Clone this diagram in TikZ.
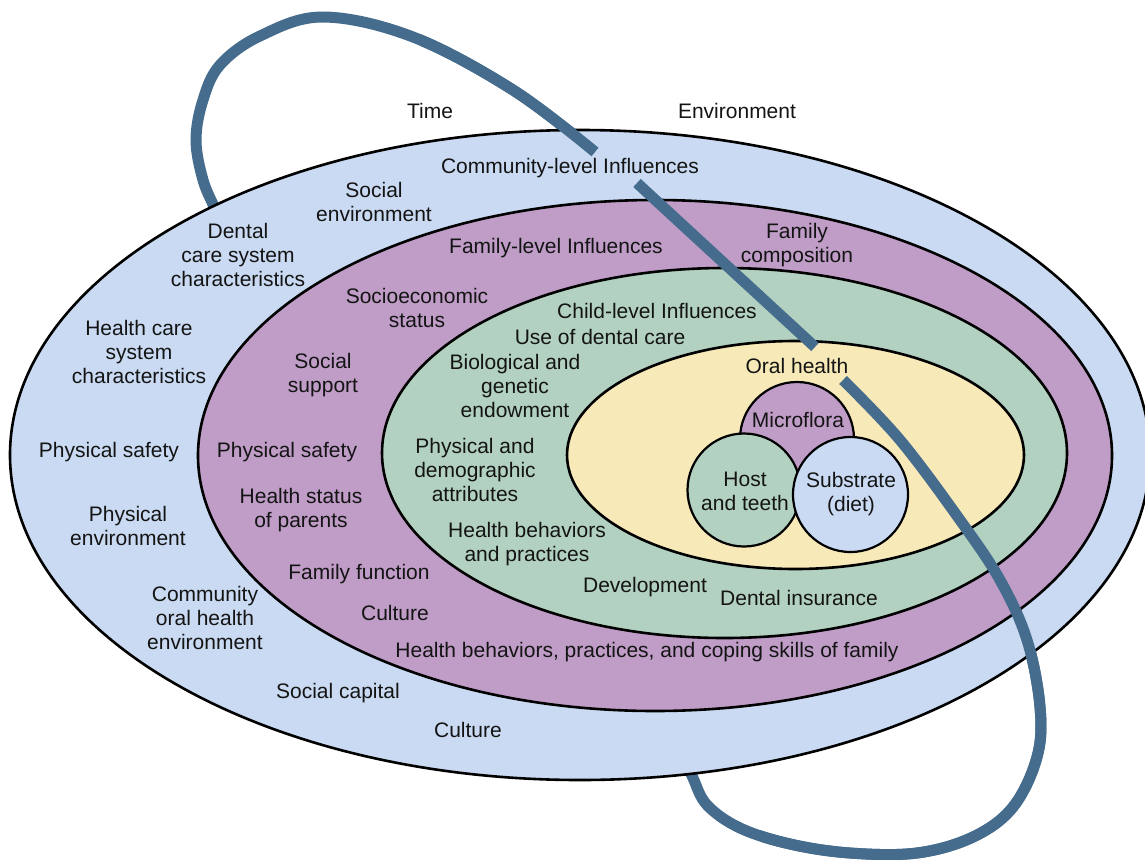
\documentclass[tikz,border=0pt]{standalone}
\usepackage{fontspec}
\setmainfont{Liberation Sans}
\definecolor{outerblue}{RGB}{201,218,242}
\definecolor{famp}{RGB}{191,157,199}
\definecolor{childg}{RGB}{178,209,192}
\definecolor{oraly}{RGB}{248,233,185}
\definecolor{curveblue}{RGB}{69,108,141}
\definecolor{txt}{RGB}{20,20,20}
\begin{document}
\begin{tikzpicture}[x=1pt,y=-1pt,
  ring/.style={draw=black, line width=2.6pt},
  disc/.style={draw=black, line width=2.2pt},
  lbl/.style={font=\fontsize{21}{24}\selectfont, align=center, inner sep=0pt, text=txt},
  band/.style={draw=curveblue, line width=11pt, line cap=butt}]
\useasboundingbox (0,0) rectangle (1145,859);
\def\curveA{plot[smooth, tension=0.6] coordinates {(221,226) (215,209) (203,180) (196,140) (203,100) (220,65) (260,36) (323,17) (413,37) (513,90) (595,152)}}
\def\curveC{plot[smooth, tension=0.6] coordinates {(843,380) (900,440) (960,520) (1000,580) (1027,640) (1040,707) (1037,757) (1013,807) (973,837) (917,853) (850,853) (790,844) (740,828) (707,805) (693,778) (686,762)}}
% curve parts that pass behind the outer ellipse
\draw[band] \curveA;
\draw[band] \curveC;
% ellipses
\draw[ring, fill=outerblue] (580,455) ellipse[x radius=570, y radius=325];
\draw[ring, fill=famp] (655,455.5) ellipse[x radius=457, y radius=255.5];
\draw[ring, fill=childg] (724.5,453) ellipse[x radius=342.5, y radius=185];
\draw[ring, fill=oraly] (795.5,455) ellipse[x radius=228.5, y radius=114];
% curve parts on top
\begin{scope}
\clip (420,0) rectangle (700,200);
\draw[band] \curveA;
\end{scope}
\coordinate (b1) at (637,183);
\coordinate (b2) at (815,347);
\draw[band] (b1) -- (b2);
\begin{scope}
\clip (760,0) rectangle (1145,859);
\draw[band] \curveC;
\end{scope}
% circles
\draw[disc, fill=famp] (797,439) circle[radius=57];
\draw[disc, fill=childg] (744,490) circle[radius=56.5];
\draw[disc, fill=outerblue] (850.5,494.5) circle[radius=57.5];
% labels
\node[lbl] (time) at (430,111) {Time};
\node[lbl] (env) at (737,111) {Environment};
\node[lbl] (comm) at (570,168) {Community-level Influences};
\node[lbl] (socenv) at (374,202) {Social\\environment};
\node[lbl] (dental) at (238,255) {Dental\\care system\\characteristics};
\node[lbl] (famlev) at (556,248) {Family-level Influences};
\node[lbl] (famcomp) at (797,245) {Family\\composition};
\node[lbl] (ses) at (417,308) {Socioeconomic\\status};
\node[lbl] (child) at (657,311) {Child-level Influences};
\node[lbl] (use) at (600,337) {Use of dental care};
\node[lbl] (hcs) at (139,352) {Health care\\system\\characteristics};
\node[lbl] (socsup) at (323,375) {Social\\support};
\node[lbl] (bio) at (515,386) {Biological and\\genetic\\endowment};
\node[lbl] (oral) at (797,366) {Oral health};
\node[lbl] (micro) at (798,420) {Microflora};
\node[lbl] (ps1) at (109,452) {Physical safety};
\node[lbl] (ps2) at (287,452) {Physical safety};
\node[lbl] (phys) at (475,470) {Physical and\\demographic\\attributes};
\node[lbl] (host) at (745,491) {Host\\and teeth};
\node[lbl] (subs) at (851,494) {Substrate\\(diet)};
\node[lbl] (hsp) at (301,510) {Health status\\of parents};
\node[lbl] (penv) at (128,526) {Physical\\environment};
\node[lbl] (hbp) at (527,544) {Health behaviors\\and practices};
\node[lbl] (ff) at (359,574) {Family function};
\node[lbl] (dev) at (645,587) {Development};
\node[lbl] (ins) at (799,598) {Dental insurance};
\node[lbl] (cohe) at (205,618) {Community\\oral health\\environment};
\node[lbl] (cult1) at (395,613) {Culture};
\node[lbl] (hbf) at (647,652) {Health behaviors, practices, and coping skills of family};
\node[lbl] (sc) at (338,693) {Social capital};
\node[lbl] (cult2) at (468,730) {Culture};
\end{tikzpicture}
\end{document}
